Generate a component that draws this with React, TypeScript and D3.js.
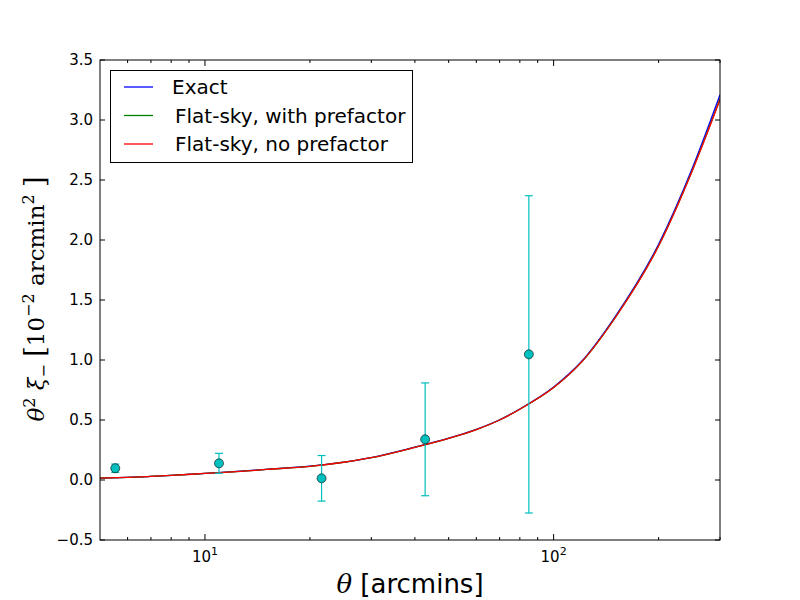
import React from 'react';
import * as d3 from 'd3';

// theta sample grid [arcmin] and the three model curves (values in 1e-2 arcmin^2)
const thetaGrid = [5, 6, 7, 8, 10, 12, 15, 20, 25, 30, 40, 50, 60, 70, 80, 100, 120, 150, 200, 250, 300];
const exactVals = [0.015, 0.022, 0.03, 0.038, 0.056, 0.069, 0.089, 0.115, 0.149, 0.187, 0.273, 0.348, 0.422, 0.502, 0.592, 0.775, 0.985, 1.36, 1.965, 2.6, 3.21];
const flatPrefVals = [0.015, 0.022, 0.03, 0.038, 0.055, 0.068, 0.088, 0.114, 0.148, 0.186, 0.272, 0.347, 0.42, 0.5, 0.59, 0.77, 0.98, 1.352, 1.952, 2.582, 3.175];
const flatNoPrefVals = [0.015, 0.022, 0.03, 0.038, 0.055, 0.068, 0.088, 0.114, 0.148, 0.186, 0.272, 0.347, 0.42, 0.5, 0.59, 0.77, 0.98, 1.35, 1.95, 2.58, 3.17];

// measured points with errors
const dataTheta = [5.53, 10.97, 21.6, 42.8, 84.9];
const dataVals = [0.098, 0.139, 0.014, 0.339, 1.047];
const dataErrs = [0.035, 0.083, 0.19, 0.47, 1.322];

const yTicks = [-0.5, 0.0, 0.5, 1.0, 1.5, 2.0, 2.5, 3.0, 3.5];
const xMajor = [10, 100];
const xMinor = [6, 7, 8, 9, 20, 30, 40, 50, 60, 70, 80, 90, 200, 300];

const legendItems = [
  { label: 'Exact', color: '#0000ff', vals: exactVals, dx: 0 },
  { label: 'Flat-sky, with prefactor', color: '#008000', vals: flatPrefVals, dx: 3 },
  { label: 'Flat-sky, no prefactor', color: '#ff0000', vals: flatNoPrefVals, dx: 3 },
];

const App: React.FC = () => {
  const left = 100, right = 720, top = 60, bottom = 540;
  const x = d3.scaleLog().domain([5, 300]).range([left, right]);
  const y = d3.scaleLinear().domain([-0.5, 3.5]).range([bottom, top]);

  const line = (vals: number[]) =>
    d3.line<number>()
      .x((_, i) => x(thetaGrid[i]))
      .y(d => y(d))
      .curve(d3.curveMonotoneX)(vals) || '';

  const tickFont = { fontFamily: 'DejaVu Sans', fontSize: 15 };
  const cyan = '#00bfbf';

  return (
    <svg width={800} height={600} style={{ position: 'absolute', left: 0, top: 0, background: '#fff' }}>
      <rect x={0} y={0} width={800} height={600} fill="#fff" />
      <defs>
        <clipPath id="plotArea">
          <rect x={left} y={top} width={right - left} height={bottom - top} />
        </clipPath>
      </defs>

      {/* curves */}
      <g clipPath="url(#plotArea)">
        {legendItems.map(it => (
          <path key={it.label} d={line(it.vals)} fill="none" stroke={it.color} strokeWidth={1.3} />
        ))}
      </g>

      {/* error bars and points */}
      <g>
        {dataTheta.map((t, i) => {
          const cx = x(t);
          const y0 = y(dataVals[i] - dataErrs[i]);
          const y1 = y(dataVals[i] + dataErrs[i]);
          return (
            <g key={i}>
              <line x1={cx} x2={cx} y1={y0} y2={y1} stroke={cyan} strokeWidth={1.2} />
              <line x1={cx - 4} x2={cx + 4} y1={y0} y2={y0} stroke={cyan} strokeWidth={1.2} />
              <line x1={cx - 4} x2={cx + 4} y1={y1} y2={y1} stroke={cyan} strokeWidth={1.2} />
              <circle cx={cx} cy={y(dataVals[i])} r={4.5} fill={cyan} stroke="#000" strokeWidth={0.6} />
            </g>
          );
        })}
      </g>

      {/* frame */}
      <rect x={left} y={top} width={right - left} height={bottom - top} fill="none" stroke="#000" strokeWidth={1} />

      {/* y ticks */}
      {yTicks.map(v => (
        <g key={v}>
          <line x1={left} x2={left + 5} y1={y(v)} y2={y(v)} stroke="#000" />
          <line x1={right} x2={right - 5} y1={y(v)} y2={y(v)} stroke="#000" />
          <text x={left - 7} y={y(v)} dy="0.36em" textAnchor="end" {...tickFont}>
            {v < 0 ? '\u2212' + Math.abs(v).toFixed(1) : v.toFixed(1)}
          </text>
        </g>
      ))}

      {/* x ticks */}
      {xMajor.map(v => (
        <g key={v}>
          <line x1={x(v)} x2={x(v)} y1={bottom} y2={bottom - 6} stroke="#000" />
          <line x1={x(v)} x2={x(v)} y1={top} y2={top + 6} stroke="#000" />
          <text x={x(v)} y={562} textAnchor="middle" {...tickFont}>
            10<tspan dy={-7} fontSize={11}>{Math.round(Math.log10(v))}</tspan>
          </text>
        </g>
      ))}
      {xMinor.map(v => (
        <g key={v}>
          <line x1={x(v)} x2={x(v)} y1={bottom} y2={bottom - 3} stroke="#000" />
          <line x1={x(v)} x2={x(v)} y1={top} y2={top + 3} stroke="#000" />
        </g>
      ))}

      {/* axis labels */}
      <text x={410} y={593} textAnchor="middle" fontFamily="DejaVu Sans" fontSize={26}>
        <tspan fontFamily="DejaVu Serif" fontStyle="italic">θ</tspan> [arcmins]
      </text>
      <text transform="translate(44,299) rotate(-90)" textAnchor="middle" fontFamily="DejaVu Serif" fontSize={23}>
        <tspan fontStyle="italic">θ</tspan>
        <tspan dy={-9} fontSize={16}>2</tspan>
        <tspan dy={9}> </tspan>
        <tspan fontStyle="italic">ξ</tspan>
        <tspan dy={5} fontSize={16}>−</tspan>
        <tspan dy={-5}>  </tspan>
        <tspan fontSize={27}>[</tspan>
        <tspan>10</tspan>
        <tspan dy={-10} fontSize={16}>−2</tspan>
        <tspan dy={10}> arcmin</tspan>
        <tspan dy={-10} fontSize={16}>2</tspan>
        <tspan dy={10}> </tspan>
        <tspan fontSize={27}>]</tspan>
      </text>

      {/* legend */}
      <g>
        <rect x={110.5} y={70.5} width={302} height={92} fill="#fff" stroke="#000" strokeWidth={1} />
        {legendItems.map((it, i) => {
          const ly = 87 + i * 28.5;
          return (
            <g key={it.label}>
              <line x1={124} x2={153} y1={ly} y2={ly} stroke={it.color} strokeWidth={1.3} />
              <text x={172 + it.dx} y={ly} dy="0.36em" fontFamily="DejaVu Sans" fontSize={20}>{it.label}</text>
            </g>
          );
        })}
      </g>
    </svg>
  );
};

export default App;
